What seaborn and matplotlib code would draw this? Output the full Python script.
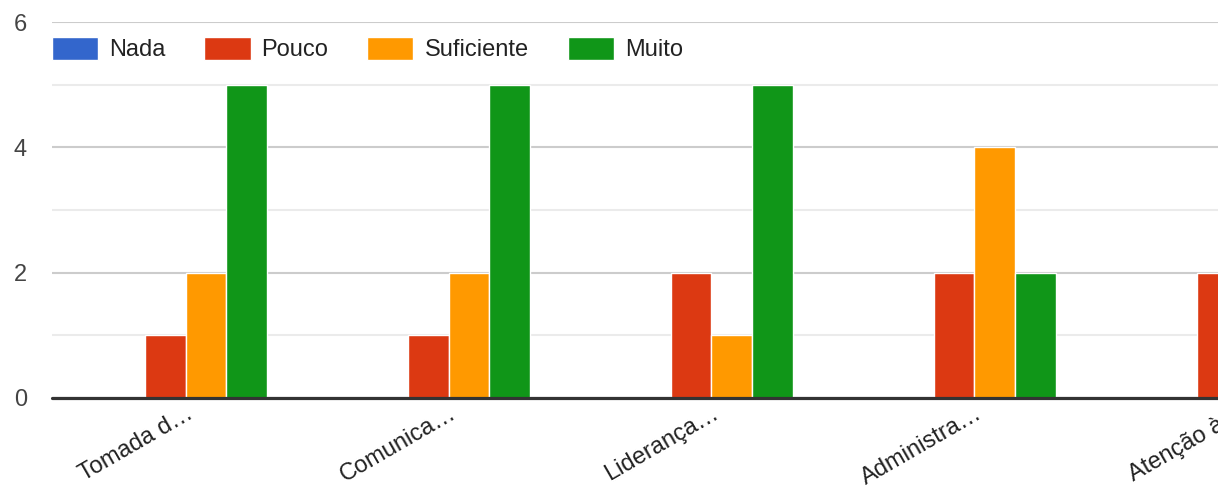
import pandas as pd
import numpy as np
import matplotlib
matplotlib.use("Agg")
import matplotlib.pyplot as plt
import seaborn as sns

# dados
categorias = ["Tomada d…", "Comunica…", "Liderança…", "Administra…", "Atenção à…"]
respostas = ["Nada", "Pouco", "Suficiente", "Muito"]
nada = [0, 0, 0, 0, 0]
pouco = [1, 1, 2, 2, 2]
suficiente = [2, 2, 1, 4, 3]
muito = [5, 5, 5, 2, 3]
cores = ["#3366CC", "#DC3912", "#FF9900", "#109618"]

df = pd.DataFrame({"Nada": nada, "Pouco": pouco, "Suficiente": suficiente, "Muito": muito},
                  index=categorias)
df = df.reset_index().melt(id_vars="index", var_name="resposta", value_name="valor")
df = df.rename(columns={"index": "categoria"})

sns.set_theme(style="white")
plt.rcParams["font.family"] = ["Liberation Sans", "DejaVu Sans"]

fig = plt.figure(figsize=(12.18, 4.9), dpi=100)
# the chart is cut on the right in the original, so the axes run past the figure
ax = fig.add_axes([52 / 1218, 1 - 398 / 490, (1300 - 52) / 1218, (398 - 22) / 490])

sns.barplot(data=df, x="categoria", y="valor", hue="resposta", hue_order=respostas,
            palette=cores, width=0.62, gap=0, edgecolor="white", linewidth=1,
            saturation=1, ax=ax)

ax.set_xlim(-0.508, 4.238)
ax.set_ylim(0, 6)
ax.set_yticks([0, 2, 4, 6])
ax.set_yticks([1, 3, 5], minor=True)
ax.grid(axis="y", which="major", color="#cccccc", linewidth=1.5)
ax.grid(axis="y", which="minor", color="#ebebeb", linewidth=1.5)
ax.set_axisbelow(True)
ax.axhline(0, color="#333333", linewidth=2.3, zorder=5, clip_on=False)

for s in ax.spines.values():
    s.set_visible(False)

ax.set_xlabel("")
ax.set_ylabel("")
ax.tick_params(axis="y", which="both", length=0, pad=18, labelsize=17, labelcolor="#444444")
ax.tick_params(axis="x", length=0, pad=3, labelsize=17, labelcolor="#222222")
plt.setp(ax.get_xticklabels(), rotation=30, ha="right", rotation_mode="anchor")

ax.legend(loc="center left", bbox_to_anchor=(0, 0.928), ncol=4, frameon=False,
          fontsize=17, borderpad=0, borderaxespad=0, handlelength=1.95,
          handleheight=1.15, handletextpad=0.47, columnspacing=1.65,
          labelcolor="#222222")

fig.savefig("out.png", dpi=100)
